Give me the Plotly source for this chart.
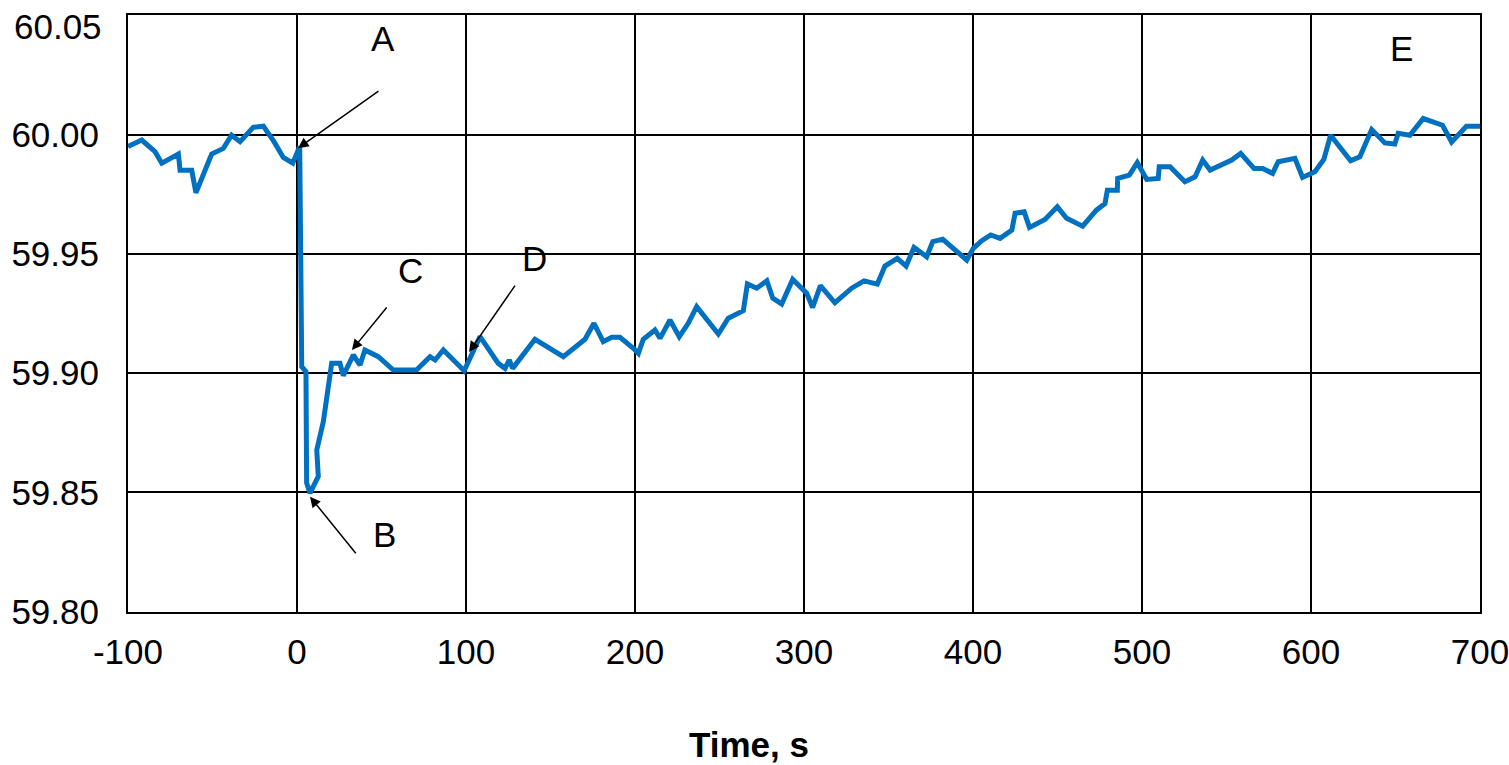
import plotly.graph_objects as go

time_s = [-100, -91.9, -84, -80, -70.2, -69.2, -62.3, -59.8, -50.5, -43.6, -38.7, -33.7,
          -25.9, -19.9, -13.6, -8.1, -2.5, 1.6, 2.8, 5.3, 5.7, 7.7, 12.6, 11.7, 15.6, 20.5,
          25.4, 27.4, 33.3, 37.3, 40.2, 48.1, 57, 70.7, 78.7, 81.7, 86.6, 98.9, 108.3,
          119.1, 123.1, 125.6, 127.6, 140.8, 157.6, 170.4, 175.7, 181.2, 186.2, 191.1,
          199, 202, 204.9, 211.8, 214.8, 220.7, 226.2, 231.5, 236.5, 249.3, 255.2, 264.1,
          266.5, 272, 278, 281.5, 286.8, 293.3, 301.6, 305.1, 309.7, 318.3, 328.2, 335.5,
          343.4, 347.9, 355.2, 360.4, 365.1, 372.6, 376.2, 382.1, 396.3, 400.2, 405.2,
          410.5, 416, 423, 424.9, 430.3, 433.4, 442.6, 449.9, 455.4, 464.9, 473, 478.1,
          479.5, 485.4, 485.6, 492.5, 497.2, 502.8, 509.6, 510.2, 516.6, 525.4, 531.4,
          535.9, 540.3, 553.1, 558.4, 566.3, 571.4, 577.3, 580.6, 590.5, 595, 602.3,
          607.6, 611.6, 623.4, 628.9, 635.9, 643.7, 649.6, 651.6, 658.5, 666.4, 677.8,
          683.2, 692, 700]
frequency = [59.995, 59.9977, 59.9928, 59.988, 59.9918, 59.985, 59.985, 59.9756, 59.9918,
             59.9942, 59.9997, 59.997, 60.003, 60.0035, 59.997, 59.9904, 59.988, 59.995,
             59.9027, 59.9006, 59.854, 59.8497, 59.8567, 59.8678, 59.8797, 59.9041, 59.9041,
             59.899, 59.9076, 59.9034, 59.9097, 59.9069, 59.9013, 59.9013, 59.9069, 59.9055,
             59.9097, 59.901, 59.9153, 59.9041, 59.902, 59.9055, 59.902, 59.9142, 59.9069,
             59.9142, 59.9209, 59.9132, 59.915, 59.915, 59.9104, 59.9083, 59.9142, 59.9181,
             59.9146, 59.9223, 59.9153, 59.9209, 59.9279, 59.9164, 59.923, 59.9262, 59.9374,
             59.9356, 59.9387, 59.9314, 59.929, 59.9393, 59.9335, 59.9275, 59.9367, 59.9295,
             59.9356, 59.9387, 59.9373, 59.9449, 59.9481, 59.9449, 59.9527, 59.9488, 59.9551,
             59.9561, 59.9474, 59.9523, 59.9555, 59.9579, 59.9565, 59.96, 59.967, 59.9676,
             59.9611, 59.9644, 59.9697, 59.9649, 59.9616, 59.9683, 59.9711, 59.9767, 59.9767,
             59.9816, 59.983, 59.9882, 59.9812, 59.9816, 59.9865, 59.9865, 59.9802, 59.9823,
             59.9893, 59.9851, 59.9893, 59.9921, 59.9858, 59.9858, 59.9837, 59.9886, 59.99,
             59.982, 59.9844, 59.9896, 59.9997, 59.989, 59.9907, 60.0021, 59.9965, 59.996,
             60.0005, 59.9997, 60.0067, 60.0039, 59.9969, 60.0035, 60.0035]

x_ticks = [-100, 0, 100, 200, 300, 400, 500, 600, 700]
x_tick_text = ["-100", "0", "100", "200", "300", "400", "500", "600", "700"]
y_ticks = [59.80, 59.85, 59.90, 59.95, 60.00, 60.05]
y_tick_text = ["59.80", "59.85", "59.90", "59.95", "60.00", "60.05"]

# point labels: (text, text_x, text_y, arrow head x, head y, tail x, tail y)
labels = [
    ("A", 50.9, 60.0404, 0.6, 59.9943, 49.1, 60.0186),
    ("B", 52.0, 59.8322, 7.7, 59.8482, 35.5, 59.8239),
    ("C", 66.9, 59.9432, 32.5, 59.9097, 53.8, 59.9281),
    ("D", 140.8, 59.9482, 101.8, 59.9089, 129.6, 59.9373),
    ("E", 653.8, 60.0362, None, None, None, None),
]

FONT = "Arial, Liberation Sans, sans-serif"

fig = go.Figure()
fig.add_trace(go.Scatter(x=time_s, y=frequency, mode="lines",
                         line=dict(color="#0070C0", width=5), showlegend=False))

for txt, tx, ty, hx, hy, sx, sy in labels:
    fig.add_annotation(x=tx, y=ty, xref="x", yref="y", text=txt, showarrow=False,
                       xanchor="center", yanchor="middle",
                       font=dict(family=FONT, size=35, color="black"))
    if hx is not None:
        fig.add_annotation(x=hx, y=hy, ax=sx, ay=sy, xref="x", yref="y",
                           axref="x", ayref="y", text="", showarrow=True,
                           arrowhead=2, arrowsize=1.4, arrowwidth=1.5,
                           arrowcolor="black", standoff=0)

fig.add_annotation(x=0.459, y=-0.222, xref="paper", yref="paper", text="<b>Time, s</b>",
                   showarrow=False, xanchor="center", yanchor="middle",
                   font=dict(family=FONT, size=35, color="black"))

# top y tick label drawn slightly lower so it stays inside the page
fig.add_annotation(x=0, y=y_ticks[-1], xref="paper", yref="y", text=y_tick_text[-1],
                   showarrow=False, xanchor="right", yanchor="middle",
                   xshift=-24, yshift=-11,
                   font=dict(family=FONT, size=35, color="black"))

axis_common = dict(showgrid=True, gridcolor="black", gridwidth=2, showline=True,
                   linecolor="black", linewidth=2, mirror=True, zeroline=False,
                   automargin=False, ticks="", ticklabeloverflow="allow",
                   tickfont=dict(family=FONT, size=35, color="black"))

fig.update_xaxes(range=[-100, 700], tickvals=x_ticks, ticktext=x_tick_text,
                 ticklabelstandoff=8, **axis_common)
fig.update_yaxes(range=[59.7999, 60.0501], tickvals=y_ticks[:-1],
                 ticktext=y_tick_text[:-1], ticklabelstandoff=20, **axis_common)

fig.update_layout(width=1509, height=765, margin=dict(l=128, r=29, t=15, b=153),
                  plot_bgcolor="white", paper_bgcolor="white",
                  font=dict(family=FONT, color="black"))

fig.write_html("out.html")
